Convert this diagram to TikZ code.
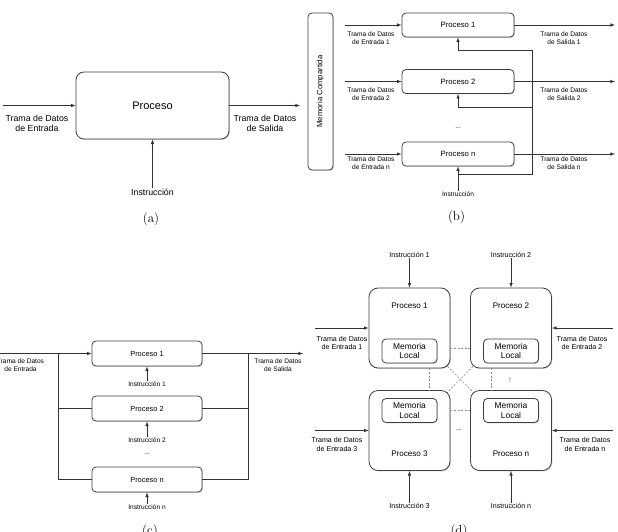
\documentclass[tikz,border=0pt]{standalone}
\usepackage{fontspec}
\setsansfont{Liberation Sans}
\usetikzlibrary{positioning,shadows,backgrounds}

\newcommand\setfs[2]{\fontsize{#1}{#2}\selectfont}

\begin{document}
\begin{tikzpicture}[x=1pt,y=-1pt,>=latex,line width=0.6pt,draw=black!80,
    every text node part/.style={align=center},
    box/.style={draw=black!75,line width=0.8pt,fill=white,rounded corners=4pt,
      drop shadow={shadow xshift=0.9pt,shadow yshift=-0.9pt,opacity=0.35}},
    lblA/.style={font=\sffamily\setfs{8.8}{10},inner sep=0.5pt},
    lblB/.style={font=\sffamily\setfs{6.6}{8},inner sep=0.5pt},
    lblD/.style={font=\sffamily\setfs{7.1}{8.6},inner sep=0.5pt},
    captxt/.style={font=\setfs{13}{15}},
    lnk/.style={draw=black!45,dash pattern=on 2pt off 1.6pt,line width=0.6pt}]
  \useasboundingbox (0,0) rectangle (618,532);

  % (a) single process
  \node[box,rounded corners=8pt,minimum width=153pt,minimum height=67pt,
    font=\sffamily\setfs{11}{13}] (procA) at (152.5,105.5) {Proceso};
  \coordinate (inA) at (3,105.5);
  \coordinate (outA) at (300,105.5);
  \draw[->] (inA) -- (procA);
  \draw[->] (procA) -- (outA);
  \node[lblA] (inlblA) at (37,123) {Trama de Datos\\de Entrada};
  \node[lblA] (outlblA) at (265,123) {Trama de Datos\\de Salida};
  \node[lblA] (instA) at (152.5,192) {Instrucción};
  \draw[->] (instA) -- (procA);
  \node[captxt] (capA) at (151,219) {(a)};

  % (b) shared memory
  \node[box,minimum width=25pt,minimum height=157pt] (memB) at (320.5,91.5) {};
  \node[rotate=90,font=\sffamily\setfs{7.7}{9}] (memlblB) at (memB) {Memoria Compartida};
  \foreach \n/\y/\ly in {1/25/38,2/81.5/94.5,n/154/163}{
    \node[box,minimum width=112pt,minimum height=24pt,font=\sffamily\setfs{7.7}{9}]
      (procB\n) at (458,\y) {Proceso \n};
    \coordinate (inB\n) at (345,\y);
    \coordinate (outB\n) at (615,\y);
    \draw[->] (inB\n) -- (procB\n);
    \draw[->] (procB\n) -- (outB\n);
    \node[lblB] (inlblB\n) at (371,\ly) {Trama de Datos\\de Entrada \n};
    \node[lblB] (outlblB\n) at (564,\ly) {Trama de Datos\\de Salida \n};
  }
  \node[lblB] (instB) at (458,194) {Instrucción};
  \draw[->] (instB) -- (procBn);
  \coordinate (jB) at (458,174);
  \coordinate (rB) at (532,174);
  \coordinate (r1B) at (532,50);
  \coordinate (j1B) at (458,50);
  \coordinate (r2B) at (532,107);
  \coordinate (j2B) at (458,107);
  \draw[->] (jB) -- (rB) -- (r1B) -- (j1B) -- (procB1);
  \draw[->] (r2B) -- (j2B) -- (procB2);
  \node[lblB] (dotsB) at (458,128) {...};
  \node[captxt] (capB) at (456.5,217) {(b)};

  % (c) parallel processes
  \foreach \n/\y/\iy in {1/353.5/384,2/408.5/440,n/479.5/507}{
    \node[box,minimum width=110pt,minimum height=25pt,font=\sffamily\setfs{7.4}{9}]
      (procC\n) at (147,\y) {Proceso \n};
    \node[lblB] (instC\n) at (147,\iy) {Instrucción \n};
    \draw[->] (instC\n) -- (procC\n);
    \coordinate (lC\n) at (58,\y);
    \coordinate (rC\n) at (248,\y);
  }
  \coordinate (inC) at (0,353.5);
  \coordinate (outC) at (303,353.5);
  \draw[->] (inC) -- (procC1);
  \draw[->] (procC1) -- (outC);
  \draw (lC1) -- (lCn) -- (procCn);
  \draw (lC2) -- (procC2);
  \draw (rC1) -- (rCn) -- (procCn);
  \draw (rC2) -- (procC2);
  \node[lblB] (inlblC) at (20.5,365) {Trama de Datos\\de Entrada};
  \node[lblB] (outlblC) at (278,365) {Trama de Datos\\de Salida};
  \node[lblB] (dotsC) at (147,454) {...};
  \node[captxt] (capC) at (150,531) {(c)};

  % (d) local memories
  \foreach \n/\x/\y/\ty/\my in {1/409.5/328/306/351,2/511/328/306/351,
      3/409.5/430.5/454/410.5,n/511/430.5/454/410.5}{
    \node[box,rounded corners=9pt,minimum width=81pt,minimum height=80pt] (procD\n) at (\x,\y) {};
    \node[font=\sffamily\setfs{8.1}{10}] (titD\n) at (\x,\ty) {Proceso \n};
    \node[box,minimum width=55pt,minimum height=24pt,font=\sffamily\setfs{8.4}{9.4}]
      (memD\n) at (\x,\my) {Memoria\\Local};
  }
  \begin{scope}[on background layer]
    \draw[lnk] (procD1.center) -- (procDn.center);
    \draw[lnk] (procD2.center) -- (procD3.center);
  \end{scope}
  \draw[lnk] ([yshift=-20pt]procD1.east) -- ([yshift=-20pt]procD2.west);
  \draw[lnk] ([yshift=20.5pt]procD3.east) -- ([yshift=20.5pt]procDn.west);
  \draw[lnk] ([xshift=19.5pt]procD1.south) -- ([xshift=19.5pt]procD3.north);
  \draw[lnk] ([xshift=-20pt]procD2.south) -- ([xshift=-20pt]procDn.north);
  \node[lblD] (instD1) at (409.5,255) {Instrucción 1};
  \node[lblD] (instD2) at (511,255) {Instrucción 2};
  \node[lblD] (instD3) at (409.5,506) {Instrucción 3};
  \node[lblD] (instDn) at (511,506) {Instrucción n};
  \foreach \n in {1,2,3,n}{
    \draw[->] (instD\n) -- (procD\n);
  }
  \coordinate (inD1) at (315,328);
  \coordinate (inD2) at (613,328);
  \coordinate (inD3) at (315,430.5);
  \coordinate (inDn) at (613,430.5);
  \foreach \n in {1,2,3,n}{
    \draw[->] (inD\n) -- (procD\n);
  }
  \node[lblD] (inlblD1) at (342,343) {Trama de Datos\\de Entrada 1};
  \node[lblD] (inlblD2) at (582,343) {Trama de Datos\\de Entrada 2};
  \node[lblD] (inlblD3) at (337,444.5) {Trama de Datos\\de Entrada 3};
  \node[lblD] (inlblDn) at (585,444.5) {Trama de Datos\\de Entrada n};
  \node[lblD] (dotsD) at (459,430) {...};
  \node[lblD,rotate=90] (vdotsD) at (510,380) {...};
  \node[captxt] (capD) at (459,531) {(d)};
\end{tikzpicture}
\end{document}
